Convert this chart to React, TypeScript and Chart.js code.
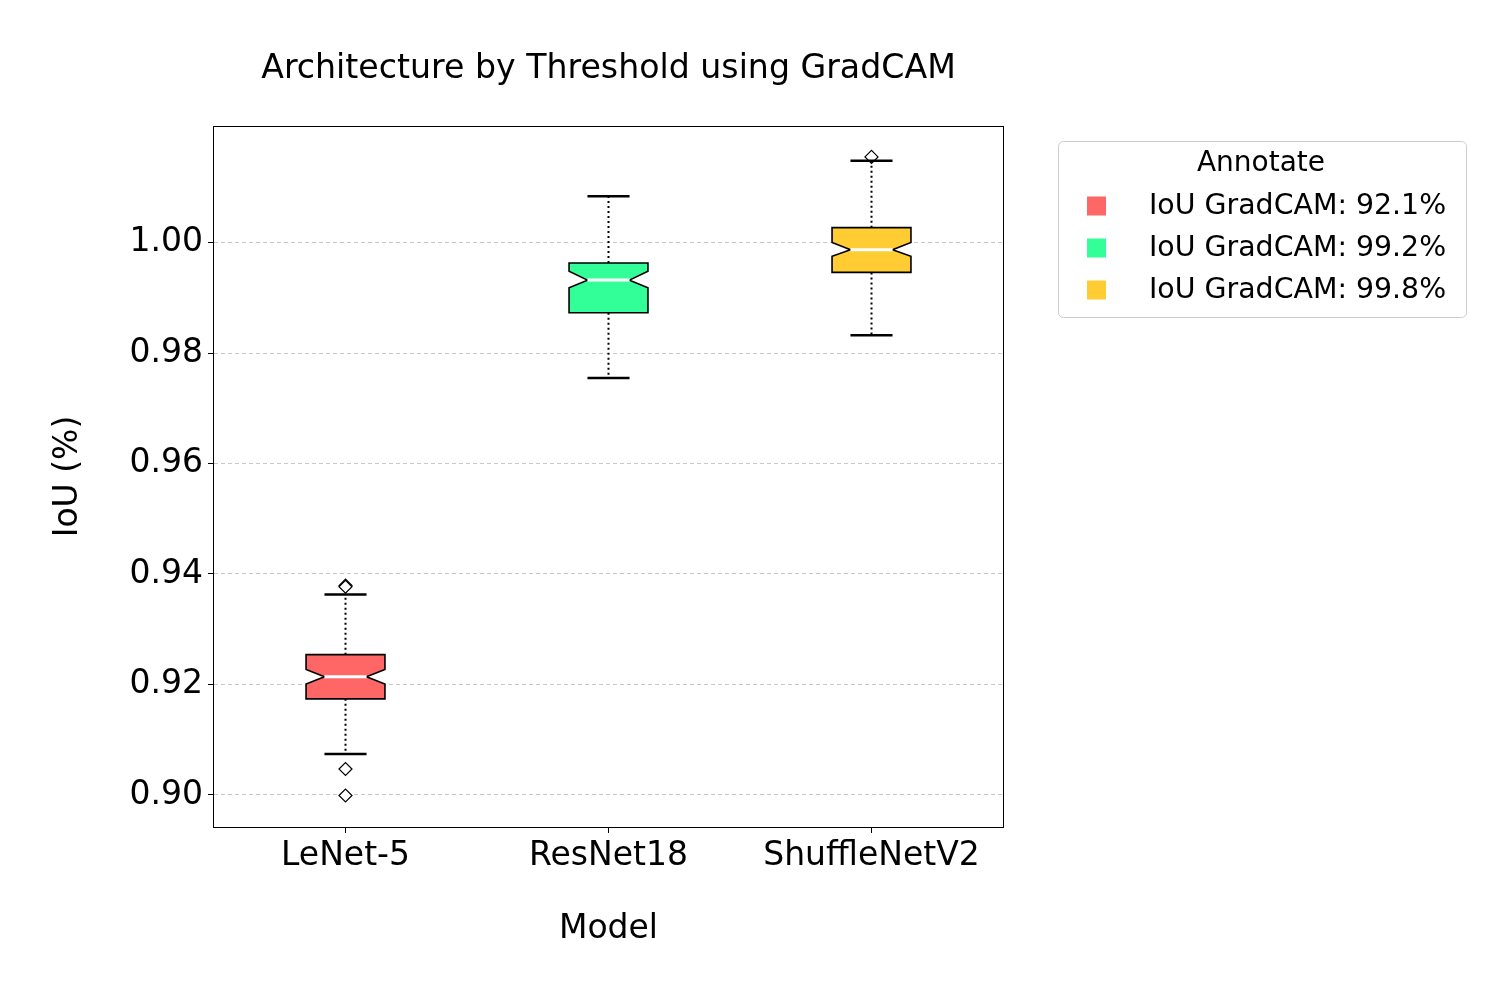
import React, { useEffect, useRef } from "react";
import { Chart, registerables } from "chart.js";

Chart.register(...registerables);

const CATEGORIES = ["LeNet-5", "ResNet18", "ShuffleNetV2"];
const WHISKER_LOW = [0.9074, 0.9755, 0.9832];
const Q1 = [0.9174, 0.9873, 0.9946];
const NOTCH_LOW = [0.9201, 0.9918, 0.9975];
const MEDIAN = [0.9214, 0.9932, 0.9987];
const NOTCH_HIGH = [0.9227, 0.9948, 1.0];
const Q3 = [0.9254, 0.9963, 1.0027];
const WHISKER_HIGH = [0.9363, 1.0084, 1.0148];
const OUTLIERS = [[0.9379, 0.9377, 0.9047, 0.8999], [], [1.0155]];
const COLORS = ["#ff6666", "#33ff99", "#ffcc33"];
const LEGEND_LABELS = ["IoU GradCAM: 92.1%", "IoU GradCAM: 99.2%", "IoU GradCAM: 99.8%"];
const LEGEND_TITLE = "Annotate";
const Y_TICKS = [0.9, 0.92, 0.94, 0.96, 0.98, 1.0];
const Y_MIN = 0.8942;
const Y_MAX = 1.0211;
const TITLE = "Architecture by Threshold using GradCAM";
const X_TITLE = "Model";
const Y_TITLE = "IoU (%)";

const FONT = '"DejaVu Sans", sans-serif';
const BOX_W = 0.3;
const NOTCH_W = 0.16;
const CAP_W = 0.16;

const boxPlugin = {
  id: "boxes",
  afterDatasetsDraw(chart: any) {
    const { ctx, scales } = chart;
    const x = scales.x;
    const y = scales.y;
    ctx.save();
    for (let i = 0; i < CATEGORIES.length; i++) {
      const pos = i + 1;
      const cx = x.getPixelForValue(pos);
      const hw = x.getPixelForValue(pos + BOX_W / 2) - cx;
      const nw = x.getPixelForValue(pos + NOTCH_W / 2) - cx;
      const cw = x.getPixelForValue(pos + CAP_W / 2) - cx;
      const yq1 = y.getPixelForValue(Q1[i]);
      const yq3 = y.getPixelForValue(Q3[i]);
      const ymed = y.getPixelForValue(MEDIAN[i]);
      const ynl = y.getPixelForValue(NOTCH_LOW[i]);
      const ynh = y.getPixelForValue(NOTCH_HIGH[i]);
      const ywl = y.getPixelForValue(WHISKER_LOW[i]);
      const ywh = y.getPixelForValue(WHISKER_HIGH[i]);

      // whiskers
      ctx.strokeStyle = "#000";
      ctx.lineWidth = 2;
      ctx.setLineDash([2, 3]);
      ctx.beginPath();
      ctx.moveTo(cx, yq3);
      ctx.lineTo(cx, ywh);
      ctx.moveTo(cx, yq1);
      ctx.lineTo(cx, ywl);
      ctx.stroke();
      ctx.setLineDash([]);

      // caps
      ctx.lineWidth = 2.5;
      ctx.beginPath();
      ctx.moveTo(cx - cw, ywh);
      ctx.lineTo(cx + cw, ywh);
      ctx.moveTo(cx - cw, ywl);
      ctx.lineTo(cx + cw, ywl);
      ctx.stroke();

      // notched box
      ctx.beginPath();
      ctx.moveTo(cx - hw, yq3);
      ctx.lineTo(cx + hw, yq3);
      ctx.lineTo(cx + hw, ynh);
      ctx.lineTo(cx + nw, ymed);
      ctx.lineTo(cx + hw, ynl);
      ctx.lineTo(cx + hw, yq1);
      ctx.lineTo(cx - hw, yq1);
      ctx.lineTo(cx - hw, ynl);
      ctx.lineTo(cx - nw, ymed);
      ctx.lineTo(cx - hw, ynh);
      ctx.closePath();
      ctx.fillStyle = COLORS[i];
      ctx.fill();
      ctx.lineWidth = 1.6;
      ctx.strokeStyle = "#000";
      ctx.lineJoin = "miter";
      ctx.stroke();

      // median
      ctx.strokeStyle = "#ffffff";
      ctx.lineWidth = 3;
      ctx.beginPath();
      ctx.moveTo(cx - nw, ymed);
      ctx.lineTo(cx + nw, ymed);
      ctx.stroke();
    }
    ctx.restore();
  },
  afterDraw(chart: any) {
    const { ctx, chartArea } = chart;
    const { left, right, top, bottom } = chartArea;
    ctx.save();
    // frame
    ctx.strokeStyle = "#000";
    ctx.lineWidth = 1;
    ctx.strokeRect(Math.round(left) - 0.5, Math.round(top) + 0.5, Math.round(right - left) + 1, Math.round(bottom - top));

    // title
    ctx.fillStyle = "#000";
    ctx.textAlign = "center";
    ctx.textBaseline = "middle";
    ctx.font = `33.2px ${FONT}`;
    ctx.fillText(TITLE, (left + right) / 2, 69);

    // axis titles
    ctx.font = `33px ${FONT}`;
    ctx.fillText(X_TITLE, (left + right) / 2, 929);
    ctx.save();
    ctx.translate(68, (top + bottom) / 2);
    ctx.rotate(-Math.PI / 2);
    ctx.fillText(Y_TITLE, 0, 0);
    ctx.restore();

    // legend
    const lx = 1058, ly = 141, lw = 408, lh = 176;
    ctx.beginPath();
    (ctx as any).roundRect(lx + 0.5, ly + 0.5, lw, lh, 5);
    ctx.fillStyle = "rgba(255,255,255,0.8)";
    ctx.fill();
    ctx.strokeStyle = "#cccccc";
    ctx.lineWidth = 1;
    ctx.stroke();
    ctx.fillStyle = "#000";
    ctx.font = `28px ${FONT}`;
    ctx.textAlign = "center";
    ctx.fillText(LEGEND_TITLE, 1261, 164);
    ctx.font = `28.4px ${FONT}`;
    ctx.textAlign = "left";
    for (let i = 0; i < LEGEND_LABELS.length; i++) {
      const cy = 206 + i * 42;
      ctx.fillStyle = COLORS[i];
      ctx.fillRect(1087, cy - 9.5, 19, 19);
      ctx.fillStyle = "#000";
      ctx.fillText(LEGEND_LABELS[i], 1149, cy + 1);
    }
    ctx.restore();
  },
};

export default function App() {
  const ref = useRef<HTMLCanvasElement>(null);
  useEffect(() => {
    document.body.style.margin = "0";
    const outlierData: { x: number; y: number }[] = [];
    OUTLIERS.forEach((arr, i) => arr.forEach((v) => outlierData.push({ x: i + 1, y: v })));
    const chart = new Chart(ref.current as HTMLCanvasElement, {
      type: "scatter",
      data: {
        datasets: [
          {
            data: outlierData,
            pointStyle: "rectRot",
            pointRadius: 6.5,
            pointBackgroundColor: "#ffffff",
            pointBorderColor: "#000000",
            pointBorderWidth: 1.2,
          },
        ],
      },
      options: {
        responsive: false,
        animation: false,
        devicePixelRatio: 1,
        layout: { padding: { top: 126, right: 497, bottom: 0, left: 0 } },
        plugins: { legend: { display: false }, tooltip: { enabled: false }, title: { display: false } },
        scales: {
          x: {
            type: "linear",
            min: 0.5,
            max: 3.5,
            afterFit: (s: any) => {
              s.height = 173;
            },
            afterBuildTicks: (s: any) => {
              s.ticks = CATEGORIES.map((_, i) => ({ value: i + 1 }));
            },
            grid: { color: "rgba(0,0,0,0)", tickColor: "#000", tickLength: 6, drawTicks: true },
            border: { display: false },
            ticks: {
              autoSkip: false,
              maxRotation: 0,
              padding: 4,
              color: "#000",
              font: { family: FONT, size: 33 },
              callback: (v: any) => CATEGORIES[Math.round(Number(v)) - 1] ?? "",
            },
          },
          y: {
            type: "linear",
            min: Y_MIN,
            max: Y_MAX,
            afterFit: (s: any) => {
              s.width = 214;
            },
            afterBuildTicks: (s: any) => {
              s.ticks = Y_TICKS.map((v) => ({ value: v }));
            },
            grid: {
              color: "#c8c8c8",
              lineWidth: 1,
              tickColor: "#000",
              tickLength: 6,
              tickBorderDash: [],
            },
            border: { display: false, dash: [4, 3] },
            ticks: {
              padding: 5,
              color: "#000",
              font: { family: FONT, size: 33 },
              callback: (v: any) => Number(v).toFixed(2),
            },
          } as any,
        },
      } as any,
      plugins: [boxPlugin],
    });
    return () => chart.destroy();
  }, []);
  return <canvas ref={ref} width={1500} height={1000} style={{ display: "block" }} />;
}
